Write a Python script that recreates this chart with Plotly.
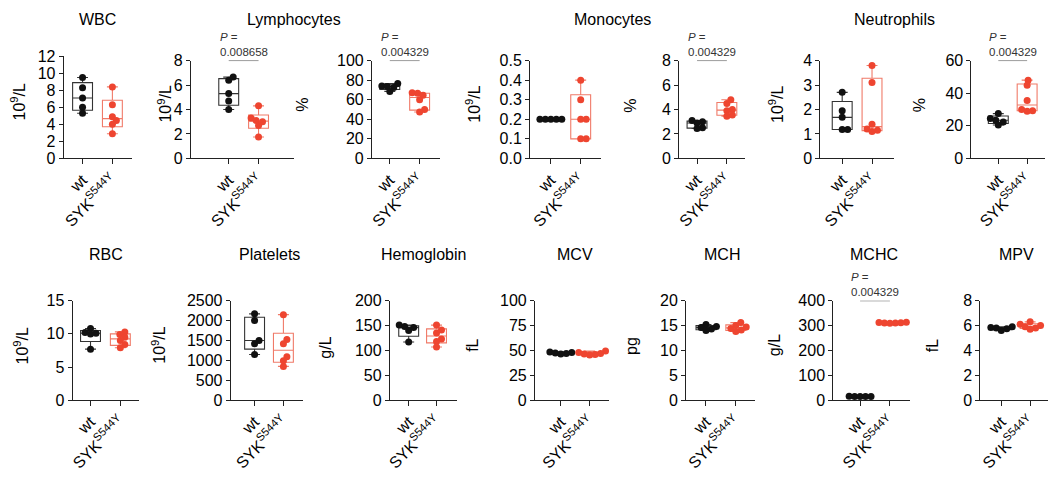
import numpy as np
import plotly.graph_objects as go

# ---------------- data ----------------
GROUPS = ["wt", "SYK<sup>S544Y</sup>"]

WBC_wt = [9.5, 8.3, 7.1, 6.0, 5.3]
WBC_syk = [8.4, 6.3, 4.9, 4.45, 4.0, 2.9]
LYM_wt = [6.65, 6.4, 5.3, 4.7, 4.0]
LYM_syk = [4.3, 3.3, 3.1, 3.0, 2.7, 1.75]
LYMP_wt = [76.5, 74.0, 73.5, 72.5, 68.5]
LYMP_syk = [67.0, 66.5, 64.5, 60.0, 50.0, 47.5]
MON_wt = [0.2, 0.2, 0.2, 0.2, 0.2]
MON_syk = [0.4, 0.3, 0.2, 0.2, 0.1, 0.1]
MONP_wt = [3.1, 3.0, 2.9, 2.5, 2.45]
MONP_syk = [4.8, 4.5, 4.0, 3.9, 3.55, 3.45]
NEU_wt = [2.7, 1.95, 1.68, 1.18, 1.18]
NEU_syk = [3.8, 3.1, 1.4, 1.2, 1.15, 1.1]
NEUP_wt = [27.5, 24.5, 23.4, 22.3, 20.5]
NEUP_syk = [48.0, 44.8, 35.5, 30.0, 29.3, 29.0]
RBC_wt = [10.8, 10.2, 10.1, 10.0, 7.7]
RBC_syk = [10.3, 9.9, 9.5, 9.0, 8.4, 7.9]
PLT_wt = [2170, 2000, 1500, 1420, 1150]
PLT_syk = [2150, 1525, 1420, 1095, 990, 850]
HB_wt = [151, 148, 146, 140, 117]
HB_syk = [151, 141, 135, 123, 118, 107]
MCV_wt = [48.5, 48.0, 47.5, 47.0, 46.5]
MCV_syk = [49.5, 48.0, 47.0, 46.5, 46.0, 45.5]
MCH_wt = [15.2, 14.8, 14.6, 14.3, 14.0]
MCH_syk = [15.6, 15.0, 14.7, 14.4, 14.1, 13.8]
MCHC_wt = [16.0, 15.5, 15.5, 15.0, 15.0]
MCHC_syk = [313, 312, 311, 310, 310, 309]
MPV_wt = [5.9, 5.85, 5.8, 5.75, 5.6]
MPV_syk = [6.3, 6.1, 6.0, 5.9, 5.8, 5.7]

Y_MAX = [12, 8, 100, 0.5, 8, 4, 60, 15, 2500, 200, 100, 20, 400, 8]
Y_DTICK = [2, 2, 20, 0.1, 2, 1, 20, 5, 500, 50, 25, 5, 100, 2]
UNITS = ["10<sup>9</sup>/L", "10<sup>9</sup>/L", "%", "10<sup>9</sup>/L", "%", "10<sup>9</sup>/L", "%",
         "10<sup>9</sup>/L", "10<sup>9</sup>/L", "g/L", "fL", "pg", "g/L", "fL"]
P_TEXT = [None, "0.008658", "0.004329", None, "0.004329", None, "0.004329",
          None, None, None, None, None, "0.004329", None]
TITLES = ["WBC", "Lymphocytes", "Monocytes", "Neutrophils",
          "RBC", "Platelets", "Hemoglobin", "MCV", "MCH", "MCHC", "MPV"]

SERIES = [(WBC_wt, WBC_syk), (LYM_wt, LYM_syk), (LYMP_wt, LYMP_syk), (MON_wt, MON_syk),
          (MONP_wt, MONP_syk), (NEU_wt, NEU_syk), (NEUP_wt, NEUP_syk),
          (RBC_wt, RBC_syk), (PLT_wt, PLT_syk), (HB_wt, HB_syk), (MCV_wt, MCV_syk),
          (MCH_wt, MCH_syk), (MCHC_wt, MCHC_syk), (MPV_wt, MPV_syk)]

# ---------------- layout (pixel geometry) ----------------
W, H = 1050, 478
# axis-left px, wt tick px, SYK tick px, axis-right px, top px, bottom px
GEOM = [
    (58, 77, 107, 127, 50, 156),
    (186, 224, 254, 290, 54.5, 156),
    (368, 386, 416, 436, 54.5, 156),
    (527, 548, 578, 598, 54.5, 156),
    (677, 695, 725, 743, 54.5, 156),
    (819, 841, 871, 893, 54.5, 156),
    (971, 998, 1027, 1045, 54.5, 156),
    (67, 85, 115, 134, 303.5, 406.7),
    (226, 250, 279, 299, 303.5, 406.7),
    (386, 405, 433, 454, 303.5, 406.7),
    (532, 558, 587, 606, 303.5, 406.7),
    (684, 704, 734, 753, 303.5, 406.7),
    (832, 859, 889, 909, 303.5, 406.7),
    (980, 1001, 1030, 1048, 303.5, 406.7),
]
UNIT_POS = [(12, 97), (160, 100), (298, 100), (470, 100), (628, 101), (775, 100), (919, 101),
            (15, 350), (153, 350), (321, 352), (469, 350), (629, 350), (773, 350), (932, 350)]
TITLE_POS = [(92, 12), (290, 12), (610, 12), (894, 12),
             (101, 256), (265, 256), (420, 256), (572, 256), (720, 256), (873, 256), (1016, 256)]

FONT = "Liberation Sans, Arial, Helvetica, sans-serif"
AXIS_C = "#222222"
BLACK = "#111111"
RED = "#EE4530"
RED_LINE = "#F07A68"
COLORS = [(BLACK, "#333333"), (RED, RED_LINE)]
DOT = 7.0


def swarm_offsets(values, px_per_unit, d=5.5):
    """Deterministic beeswarm: horizontal pixel offsets so dots don't pile up."""
    vals = np.asarray(values, dtype=float)
    order = np.argsort(vals)
    placed = []
    offs = np.zeros(len(vals))
    cands = sorted({0.0} | {s * k * 0.5 for k in range(1, 80) for s in (1, -1)},
                   key=lambda v: (abs(v), -v))
    for idx in order:
        ypx = vals[idx] * px_per_unit
        for c in cands:
            if all((c - px) ** 2 + (ypx - py) ** 2 >= d * d for px, py in placed):
                offs[idx] = c
                placed.append((c, ypx))
                break
    return offs


fig = go.Figure()
annotations = []
shapes = []

for i, (geom, (wt, syk)) in enumerate(zip(GEOM, SERIES)):
    n = i + 1
    xr = "x" if n == 1 else f"x{n}"
    yr = "y" if n == 1 else f"y{n}"
    ax, xw, xs, xe, top, bot = geom
    upx = xs - xw
    lo = -(xw - ax) / upx
    hi = 1 + (xe - xs) / upx
    bw = 20.0 / upx
    ymax = Y_MAX[i]
    ppu = (bot - top) / ymax

    for gi, vals in enumerate((wt, syk)):
        arr = np.asarray(vals, dtype=float)
        q1, med, q3 = np.percentile(arr, [25, 50, 75], method="weibull")
        pc, lc = COLORS[gi]
        fig.add_trace(go.Box(
            x=[gi], q1=[q1], median=[med], q3=[q3],
            lowerfence=[arr.min()], upperfence=[arr.max()],
            width=bw, whiskerwidth=0.55, boxpoints=False,
            line=dict(color=lc, width=1.1), fillcolor="rgba(0,0,0,0)",
            xaxis=xr, yaxis=yr, showlegend=False, hoverinfo="skip"))
        offs = swarm_offsets(arr, ppu)
        fig.add_trace(go.Scatter(
            x=gi + offs / upx, y=arr, mode="markers",
            marker=dict(color=pc, size=DOT, line=dict(width=0)),
            xaxis=xr, yaxis=yr, showlegend=False, cliponaxis=False))

    xa = "xaxis" if n == 1 else f"xaxis{n}"
    ya = "yaxis" if n == 1 else f"yaxis{n}"
    fig.layout[xa] = dict(
        domain=[ax / W, xe / W], range=[lo, hi], anchor=yr,
        tickmode="array", tickvals=[0, 1], ticktext=GROUPS, tickangle=-45,
        showline=True, linecolor=AXIS_C, linewidth=1, ticks="outside", ticklen=5,
        tickwidth=1, tickcolor=AXIS_C, showgrid=False, zeroline=False,
        tickfont=dict(family=FONT, size=16, color="black"))
    fig.layout[ya] = dict(
        domain=[1 - bot / H, 1 - top / H], range=[0, ymax], anchor=xr,
        tick0=0, dtick=Y_DTICK[i], tickformat=".1f" if ymax < 1 else "",
        showline=True, linecolor=AXIS_C, linewidth=1, ticks="outside", ticklen=4,
        tickwidth=1, tickcolor=AXIS_C, showgrid=False, zeroline=False,
        tickfont=dict(family=FONT, size=16, color="black"))

    ux, uy = UNIT_POS[i]
    annotations.append(dict(x=ux / W, y=1 - uy / H, xref="paper", yref="paper",
                            xanchor="center", yanchor="middle",
                            text=UNITS[i], textangle=-90, showarrow=False,
                            font=dict(family=FONT, size=16, color="black")))
    if P_TEXT[i]:
        shapes.append(dict(type="line", xref=xr, yref=yr, x0=0, x1=1, y0=ymax, y1=ymax,
                           line=dict(color="#444444", width=1)))
        annotations.append(dict(x=0.5, y=ymax, xref=xr, yref=yr, xanchor="center",
                                yanchor="bottom", yshift=1, showarrow=False, align="left",
                                text="<i>P</i> =<br>" + P_TEXT[i],
                                font=dict(family=FONT, size=11.5, color="#333333")))

for t, (tx, ty) in zip(TITLES, TITLE_POS):
    annotations.append(dict(x=tx / W, y=1 - ty / H, xref="paper", yref="paper", text=t,
                            xanchor="center", yanchor="middle", showarrow=False,
                            font=dict(family=FONT, size=16, color="black")))

fig.update_layout(width=W, height=H, margin=dict(l=0, r=0, t=0, b=0),
                  paper_bgcolor="white", plot_bgcolor="white",
                  annotations=annotations, shapes=shapes, boxmode="overlay")

fig.write_html("out.html", config={"displayModeBar": False},
               post_script="document.body.style.margin='0px';")
